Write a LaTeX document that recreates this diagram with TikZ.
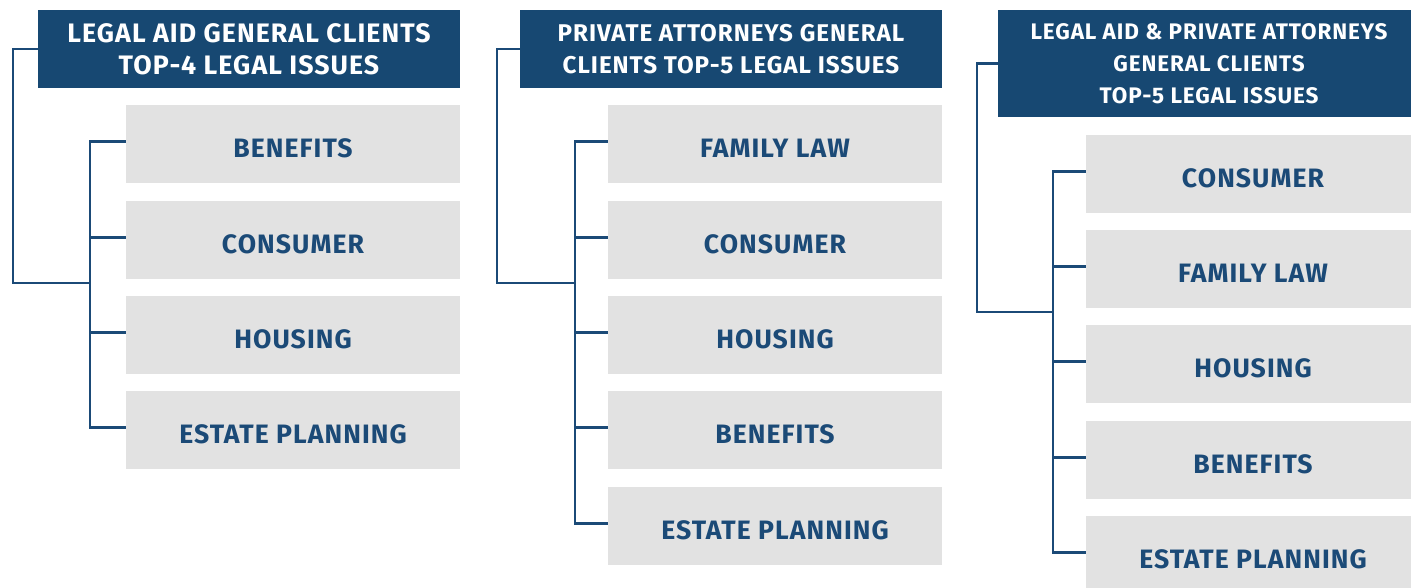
\documentclass[tikz,border=0pt]{standalone}
\usepackage{fontspec}
\setmainfont{Fira Sans}[LetterSpace=4]
\definecolor{hdrblue}{HTML}{174872}
\definecolor{lineblue}{HTML}{1B4A77}
\definecolor{boxgray}{HTML}{E2E2E2}
\begin{document}
\begin{tikzpicture}[x=1pt,y=-1pt,
  hdr/.style={fill=hdrblue, text=white, align=center, inner sep=0pt, minimum width=422pt},
  item/.style={fill=boxgray, text=lineblue, font=\bfseries\fontsize{26.6}{30}\selectfont, minimum width=334pt, minimum height=78pt, inner sep=0pt, text height=26.5pt, text depth=0pt},
  conn/.style={draw=lineblue, line width=2.2pt}]
\useasboundingbox (0,0) rectangle (1411,588);

% ---------- column 1 ----------
\node[hdr, font=\bfseries\fontsize{26.7}{32}\selectfont, minimum height=78pt] (h1) at (249,49) {LEGAL AID GENERAL CLIENTS\\TOP-4 LEGAL ISSUES};
\node[item] (a1) at (293,144) {BENEFITS};
\node[item] (a2) at (293,240) {CONSUMER};
\node[item] (a3) at (293,335) {HOUSING};
\node[item] (a4) at (293,430) {ESTATE PLANNING};
\coordinate (j1) at (90,283);
\draw[conn] (h1.west) -| (13,283) -- (j1);
\draw[conn] ([yshift=2.5pt]a1.west) -| ([yshift=2.5pt]a4.west -| j1) -- ([yshift=2.5pt]a4.west);
\draw[conn] ([yshift=2.5pt]a2.west) -- ([yshift=2.5pt]a2.west -| j1);
\draw[conn] ([yshift=2.5pt]a3.west) -- ([yshift=2.5pt]a3.west -| j1);

% ---------- column 2 ----------
\node[hdr, font=\bfseries\fontsize{24.2}{32}\selectfont, minimum height=78pt] (h2) at (731,49) {PRIVATE ATTORNEYS GENERAL\\CLIENTS TOP-5 LEGAL ISSUES};
\node[item] (b1) at (775,144) {FAMILY LAW};
\node[item] (b2) at (775,240) {CONSUMER};
\node[item] (b3) at (775,335) {HOUSING};
\node[item] (b4) at (775,430) {BENEFITS};
\node[item] (b5) at (775,526) {ESTATE PLANNING};
\coordinate (j2) at (575,283);
\draw[conn] (h2.west) -| (497,283) -- (j2);
\draw[conn] ([yshift=2.5pt]b1.west) -| ([yshift=2.5pt]b5.west -| j2) -- ([yshift=2.5pt]b5.west);
\draw[conn] ([yshift=2.5pt]b2.west) -- ([yshift=2.5pt]b2.west -| j2);
\draw[conn] ([yshift=2.5pt]b3.west) -- ([yshift=2.5pt]b3.west -| j2);
\draw[conn] ([yshift=2.5pt]b4.west) -- ([yshift=2.5pt]b4.west -| j2);

% ---------- column 3 (cut off at the right edge) ----------
\node[hdr, font=\bfseries\fontsize{22.5}{32}\selectfont, minimum height=107pt] (h3) at (1209,63.5) {LEGAL AID \& PRIVATE ATTORNEYS\\GENERAL CLIENTS\\TOP-5 LEGAL ISSUES};
\node[item] (c1) at (1253,174) {CONSUMER};
\node[item] (c2) at (1253,269) {FAMILY LAW};
\node[item] (c3) at (1253,364) {HOUSING};
\node[item] (c4) at (1253,460) {BENEFITS};
\node[item] (c5) at (1253,555) {ESTATE PLANNING};
\coordinate (j3) at (1053,312);
\draw[conn] (h3.west) -| (977,312) -- (j3);
\draw[conn] ([yshift=2.5pt]c1.west) -| ([yshift=2.5pt]c5.west -| j3) -- ([yshift=2.5pt]c5.west);
\draw[conn] ([yshift=2.5pt]c2.west) -- ([yshift=2.5pt]c2.west -| j3);
\draw[conn] ([yshift=2.5pt]c3.west) -- ([yshift=2.5pt]c3.west -| j3);
\draw[conn] ([yshift=2.5pt]c4.west) -- ([yshift=2.5pt]c4.west -| j3);
\end{tikzpicture}
\end{document}
